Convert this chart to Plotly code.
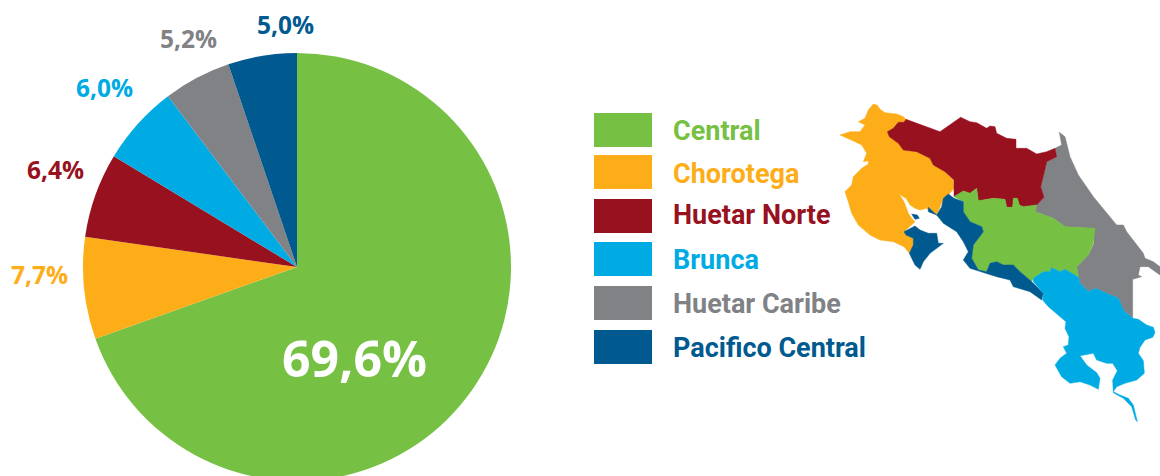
import plotly.graph_objects as go

W, H = 1160, 490

regions = ["Central", "Chorotega", "Huetar Norte", "Brunca", "Huetar Caribe", "Pacifico Central"]
label_values = [69.6, 7.7, 6.4, 6.0, 5.2, 5.0]
slice_sizes = [69.55, 7.7, 6.4, 6.05, 5.1, 5.2]
colors = ["#76C044", "#FDAD18", "#98111F", "#00ABE3", "#808285", "#005A8F"]

# Region outlines (map units: arbitrary, y grows downward)
chorotega_xy = [(130,42),(142,46),(150,58),(165,68),(200,72),(220,80),(230,90),(222,97),(205,97),(190,115),(172,125),(178,140),(205,160),(220,180),(260,185),(300,205),(310,225),(345,245),(370,270),(372,295),(355,315),(340,325),(330,350),(320,375),(300,365),(290,355),(270,360),(255,355),(240,345),(228,325),(208,313),(222,335),(235,370),(245,385),(255,395),(240,410),(222,425),(228,435),(250,445),(250,465),(238,490),(222,470),(190,455),(150,450),(120,435),(85,405),(65,370),(55,335),(45,305),(65,285),(70,260),(95,235),(115,222),(115,212),(100,215),(110,190),(95,165),(75,155),(50,145),(30,135),(60,125),(90,125),(105,105),(85,95),(105,85),(115,60)]
norte_xy = [(228,88),(330,125),(392,82),(420,95),(440,98),(470,115),(480,108),(495,110),(500,130),(530,145),(558,148),(558,175),(590,175),(620,192),(650,185),(675,175),(680,200),(650,215),(642,250),(632,290),(642,322),(620,345),(580,350),(568,345),(562,325),(550,325),(548,352),(530,352),(525,328),(490,325),(445,332),(440,295),(420,310),(400,303),(372,320),(372,270),(345,245),(310,225),(300,205),(260,185),(220,180),(205,160),(178,140),(172,125),(190,115),(205,97),(222,97)]
caribe_xy = [(688,127),(705,140),(720,200),(745,255),(790,320),(860,405),(880,405),(890,425),(940,490),(945,505),(970,515),(990,530),(990,555),(955,530),(930,530),(925,555),(935,560),(908,568),(908,685),(880,660),(865,625),(830,610),(795,595),(775,605),(750,580),(745,560),(740,530),(775,495),(792,460),(790,415),(705,410),(670,385),(615,365),(620,345),(642,322),(632,290),(642,250),(650,215),(680,200),(675,175),(695,165)]
central_xy = [(372,320),(400,303),(420,310),(440,295),(445,332),(490,325),(525,328),(530,352),(548,352),(550,325),(562,325),(568,345),(580,350),(620,345),(615,365),(670,385),(705,410),(795,415),(790,460),(775,495),(740,530),(745,562),(725,550),(705,538),(690,545),(665,533),(660,545),(640,545),(610,565),(605,575),(570,545),(550,525),(520,525),(500,515),(480,520),(470,545),(445,540),(425,505),(430,465),(460,425),(455,410),(420,395),(400,365),(400,335)]
pacifico_xy = [(355,312),(372,325),(400,335),(400,365),(420,395),(455,410),(460,425),(430,465),(425,505),(445,540),(470,545),(480,520),(500,515),(520,525),(550,525),(570,545),(605,575),(640,610),(635,630),(600,605),(550,590),(540,570),(500,560),(450,545),(420,535),(400,510),(415,485),(400,455),(380,425),(340,400),(320,375),(295,365),(295,352),(320,375),(335,350),(340,325)]
nicoya_xy = [(222,425),(255,408),(270,420),(295,430),(320,430),(325,460),(340,460),(320,475),(300,490),(280,515),(270,538),(255,525),(238,490),(250,465),(250,445),(228,435)]
chira_xy = [(245,372),(262,375),(268,385),(255,388)]
brunca_xy = [(610,565),(640,545),(660,545),(665,533),(690,545),(705,538),(725,550),(745,562),(750,580),(775,605),(795,595),(830,610),(865,625),(880,660),(908,685),(925,688),(950,705),(970,712),(975,728),(968,742),(945,750),(930,772),(925,790),(940,812),(943,850),(920,870),(885,880),(860,890),(850,905),(870,915),(895,925),(910,945),(922,995),(917,990),(905,950),(880,925),(850,908),(848,870),(862,842),(848,820),(830,820),(800,810),(790,790),(750,797),(770,825),(800,848),(810,865),(805,898),(780,885),(750,875),(720,880),(695,860),(675,825),(690,805),(710,790),(700,770),(715,765),(717,740),(705,715),(708,695),(680,670),(655,650),(638,630),(640,610),(610,575)]

map_shapes = [
    (caribe_xy, "#808285"), (chorotega_xy, "#FDAD18"), (norte_xy, "#98111F"),
    (central_xy, "#76C044"), (pacifico_xy, "#005A8F"), (nicoya_xy, "#005A8F"),
    (chira_xy, "#005A8F"), (brunca_xy, "#00ABE3"),
]

def px(v):
    return v / W

def py(v):
    return (H - v) / H

fig = go.Figure()
fig.add_trace(go.Pie(
    labels=regions, values=slice_sizes, sort=False, direction="clockwise", rotation=0,
    marker=dict(colors=colors, line=dict(width=0)),
    textinfo="none", showlegend=False, hole=0,
    domain=dict(x=[px(83), px(511)], y=[py(481), py(53)]),
))

for xy, col in map_shapes:
    fig.add_trace(go.Scatter(
        x=[p[0] for p in xy] + [xy[0][0]], y=[p[1] for p in xy] + [xy[0][1]],
        mode="lines", fill="toself", fillcolor=col, line=dict(width=0.5, color=col),
        hoverinfo="skip", showlegend=False,
    ))

label_pos = [(354, 358), (39, 274), (55, 169), (104, 87), (188, 39), (285, 25)]
annotations = []
for i, (v, (x, y)) in enumerate(zip(label_values, label_pos)):
    annotations.append(dict(
        text=f"<b>{v:.1f}".replace(".", ",") + "%</b>",
        x=px(x), y=py(y), xref="paper", yref="paper", xanchor="center", yanchor="middle",
        showarrow=False,
        font=dict(family="Open Sans", size=50 if i == 0 else 24.5, color="white" if i == 0 else colors[i]),
    ))

swatch_tops = [113, 155, 199, 242, 286, 330]
text_mids = [131, 174, 215, 260, 304, 348]
shapes = []
for name, top, mid, col in zip(regions, swatch_tops, text_mids, colors):
    shapes.append(dict(type="rect", xref="paper", yref="paper", x0=px(594), x1=px(652),
                       y0=py(top + 34), y1=py(top), fillcolor=col, line=dict(width=0)))
    annotations.append(dict(
        text=f"<b>{name}</b>", x=px(671), y=py(mid), xref="paper", yref="paper",
        xanchor="left", yanchor="middle", showarrow=False,
        font=dict(family="Roboto", size=27, color=col),
    ))

fig.update_layout(
    width=W, height=H, margin=dict(l=0, r=0, t=0, b=0),
    paper_bgcolor="white", plot_bgcolor="rgba(0,0,0,0)",
    xaxis=dict(domain=[px(830), 1], range=[0, 990], visible=False),
    yaxis=dict(domain=[py(430), py(90)], range=[1020, 0], visible=False),
    annotations=annotations, shapes=shapes,
)

fig.write_html("out.html", config=dict(displayModeBar=False),
               post_script="document.body.style.margin='0';document.body.style.overflow='hidden';document.documentElement.style.overflow='hidden';")
